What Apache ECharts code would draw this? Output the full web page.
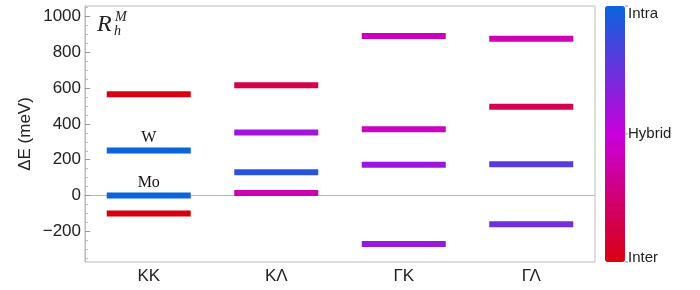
<!DOCTYPE html>
<html><head><meta charset="utf-8">
<script src="https://cdn.jsdelivr.net/npm/echarts@6/dist/echarts.min.js"></script>
<style>html,body{margin:0;padding:0;background:#fff}#c{width:700px;height:290px}</style>
</head><body><div id="c"></div>
<script>
// categories (x)
const categories = ['KK', 'KΛ', 'ΓK', 'ΓΛ'];
// energy levels per category (meV)
const energies = [
  [565, 252, 0, -100],
  [615, 352, 130, 15],
  [890, 370, 172, -270],
  [875, 495, 175, -160]
];
// character: 0 = Inter, 0.5 = Hybrid, 1 = Intra
const character = [
  [0.0, 1.0, 1.0, 0.0],
  [0.14, 0.6, 0.92, 0.39],
  [0.43, 0.44, 0.62, 0.63],
  [0.41, 0.16, 0.79, 0.73]
];
// point annotations
const pointLabels = [
  ['', 'W', 'Mo', ''],
  ['', '', '', ''],
  ['', '', '', ''],
  ['', '', '', '']
];
const yTicks = [-200, 0, 200, 400, 600, 800, 1000];
const yMinorTicks = [-350,-300,-250,-150,-100,-50,50,100,150,250,300,350,450,500,550,650,700,750,850,900,950,1050];
const colorbarLabels = ['Inter', 'Hybrid', 'Intra'];
const colorbarValues = [0, 0.5, 1];

const data = [];
categories.forEach((c, i) => {
  energies[i].forEach((e, j) => {
    const item = { value: [i, e, character[i][j]] };
    if (pointLabels[i][j]) {
      item.label = { show: true, formatter: pointLabels[i][j] };
    }
    data.push(item);
  });
});

const chart = echarts.init(document.getElementById('c'), null, { renderer: 'canvas' });
const Y_MIN = -370, Y_MAX = 1057;
const gridTop = 6, gridBottom = 28, plotH = 290 - gridTop - gridBottom;
const cbTop = gridTop, cbH = plotH, cbLeft = 605, cbW = 20;

const graphics = [
  { type: 'text', x: 25.5, y: 134, rotation: Math.PI / 2,
    style: { text: 'ΔE (meV)', fontSize: 17, fontFamily: 'Liberation Sans, Arial', fill: '#222', align: 'center', verticalAlign: 'middle' } },
  { type: 'text', left: 97, top: 13,
    style: { text: 'R', fontSize: 24, fontStyle: 'italic', fontFamily: 'Liberation Serif, serif', fill: '#222' } },
  { type: 'text', left: 115, top: 10,
    style: { text: 'M', fontSize: 14, fontStyle: 'italic', fontFamily: 'Liberation Serif, serif', fill: '#222' } },
  { type: 'text', left: 114, top: 24,
    style: { text: 'h', fontSize: 14, fontStyle: 'italic', fontFamily: 'Liberation Serif, serif', fill: '#222' } }
];
colorbarLabels.forEach((t, k) => {
  const y = cbTop + cbH * (1 - colorbarValues[k]);
  const yy = Math.min(Math.max(y, cbTop + 8), cbTop + cbH - 4);
  graphics.push({ type: 'line', shape: { x1: cbLeft + cbW, y1: y, x2: cbLeft + cbW + 3, y2: y }, style: { stroke: '#999', lineWidth: 1 } });
  graphics.push({ type: 'text', x: cbLeft + cbW + 3, y: yy,
    style: { text: t, fontSize: 15, fontFamily: 'Liberation Sans, Arial', fill: '#222', verticalAlign: 'middle' } });
});

chart.setOption({
  animation: false,
  grid: { left: 85, right: 105, top: gridTop, bottom: gridBottom, show: true, borderColor: '#bbb', borderWidth: 1 },
  xAxis: {
    type: 'category', data: categories, boundaryGap: true,
    axisLine: { lineStyle: { color: '#bbb' } },
    axisTick: { inside: true, alignWithLabel: true, length: 7, lineStyle: { color: '#999' } },
    axisLabel: { fontSize: 17, color: '#222', fontFamily: 'Liberation Sans, Arial', margin: 6 },
    splitLine: { show: false }
  },
  yAxis: [{
    type: 'value', min: Y_MIN, max: Y_MAX,
    axisLine: { show: true, lineStyle: { color: '#bbb' } },
    axisTick: { show: true, inside: true, length: 5, customValues: yTicks, lineStyle: { color: '#999' } },
    axisLabel: { fontSize: 17, color: '#222', fontFamily: 'Liberation Sans, Arial', margin: 4, customValues: yTicks,
      formatter: v => String(v).replace('-', '\u2212') },
    splitLine: { show: false }
  }, {
    type: 'value', min: Y_MIN, max: Y_MAX, position: 'left',
    axisLine: { show: false },
    axisTick: { show: true, inside: true, length: 3, customValues: yMinorTicks, lineStyle: { color: '#bbb' } },
    axisLabel: { show: false },
    splitLine: { show: false }
  }],
  visualMap: {
    type: 'continuous', min: 0, max: 1, dimension: 2, seriesIndex: 1,
    orient: 'vertical', left: cbLeft, top: cbTop, itemWidth: cbW, itemHeight: cbH,
    padding: 0, calculable: false, text: null, showLabel: false,
    inRange: { color: ['#d8000f', '#c800dc', '#0a64dc'] }
  },
  graphic: graphics,
  series: [{
    type: 'line', data: [], z: 0, silent: true,
    markLine: { silent: true, z: 0, symbol: 'none', label: { show: false },
      lineStyle: { color: '#ddd', width: 1, type: 'solid' }, data: [{ yAxis: 0 }] }
  }, {
    type: 'scatter', symbol: 'rect', symbolSize: [84, 6], z: 10,
    itemStyle: { opacity: 1 },
    data: data,
    label: { show: false, position: 'top', distance: 2, fontSize: 16, color: '#111', fontFamily: 'Liberation Serif, serif' }
  }]
});
</script></body></html>
